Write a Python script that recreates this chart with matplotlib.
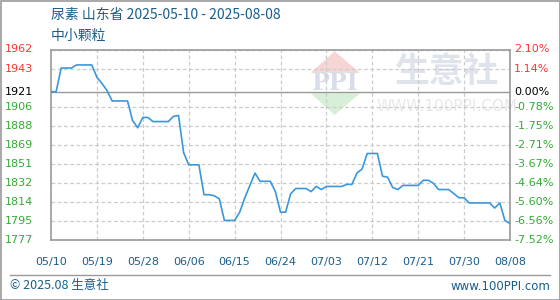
import numpy as np
import pandas as pd
import matplotlib
matplotlib.use('Agg')
import matplotlib.pyplot as plt
import matplotlib.transforms as mtransforms
from matplotlib.patches import Polygon

plt.rcParams['font.family'] = ['Noto Sans CJK SC', 'DejaVu Sans']

# daily price, 2025-05-10 .. 2025-08-08
dates = pd.date_range('2025-05-10', '2025-08-08', freq='D')
prices = [
    1921, 1921, 1944, 1944, 1944, 1947, 1947, 1947, 1947, 1935,
    1929, 1922, 1912, 1912, 1912, 1912, 1893, 1886, 1896, 1896,
    1892, 1892, 1892, 1892, 1897, 1898, 1862, 1850, 1850, 1850,
    1821, 1821, 1820, 1817, 1796, 1796, 1796, 1804, 1818, 1830,
    1842, 1834, 1834, 1834, 1824, 1804, 1804, 1822, 1827, 1827,
    1827, 1824, 1829, 1826, 1829, 1829, 1829, 1829, 1831, 1831,
    1842, 1846, 1861, 1861, 1861, 1839, 1838, 1828, 1826, 1830,
    1830, 1830, 1830, 1835, 1835, 1832, 1826, 1826, 1826, 1822,
    1818, 1818, 1813, 1813, 1813, 1813, 1813, 1808, 1813, 1796,
    1793,
]
base_price = 1921

y_min, y_max = 1777, 1962
left_labels = ['1777', '1795', '1814', '1832', '1851', '1869', '1888',
               '1906', '1921', '1943', '1962']
right_labels = ['-7.52%', '-6.56%', '-5.60%', '-4.64%', '-3.67%', '-2.71%',
                '-1.75%', '-0.78%', '0.00%', '1.14%', '2.10%']
x_tick_dates = pd.date_range('2025-05-10', '2025-08-08', freq='9D')
x_labels = [d.strftime('%m/%d') for d in x_tick_dates]

RED = '#ff3333'
GREEN = '#33aa33'
BLUE_TXT = '#1a5e8c'

fig = plt.figure(figsize=(5.6, 3.0), dpi=100)
ax = fig.add_axes([51 / 560, 1 - 240 / 300, 459 / 560, 190.5 / 300])

# gridline positions: evenly spaced, the one nearest the base is swapped for the base
grid_y = list(np.linspace(y_min, y_max, 11))
grid_y[8] = base_price

ax.set_xlim(dates[0], dates[-1])
ax.set_ylim(y_min, y_max)
for gy in grid_y:
    if gy == base_price:
        ax.axhline(gy, color='#999999', lw=1.0, zorder=2)
    else:
        ax.axhline(gy, color='#cccccc', lw=0.9, ls=(0, (3, 2)), zorder=1)
for xd in x_tick_dates[1:-1]:
    ax.axvline(xd, color='#cccccc', lw=0.9, ls=(0, (3, 2)), zorder=1)

# watermark
wm = ax.transAxes
ax.add_patch(Polygon([[0.566, 0.878], [0.618, 0.99], [0.673, 0.878]], closed=True,
                     transform=wm, fc='#f8d5d5', ec='none', zorder=0))
ax.add_patch(Polygon([[0.566, 0.77], [0.618, 0.656], [0.673, 0.77]], closed=True,
                     transform=wm, fc='#d6efd6', ec='none', zorder=0))
ax.text(0.619, 0.823, 'PPI', transform=wm, ha='center', va='center', fontsize=17,
        fontweight='bold', color='#d8dde8', family='DejaVu Serif', zorder=0)
ax.text(0.862, 0.882, '生意社', transform=wm, ha='center', va='center', fontsize=25,
        fontweight='bold', color='#dfe3ec', zorder=0)
ax.text(0.862, 0.70, 'WWW.100PPI.COM', transform=wm, ha='center', va='center',
        fontsize=11, color='#e8e8e8', family='DejaVu Sans', zorder=0)

ax.plot(dates, prices, color='#3a98d8', lw=1.2, zorder=3)

for sp in ax.spines.values():
    sp.set_color('#999999')
    sp.set_linewidth(1.2)

ax.set_yticks([])
ax.set_xticks(x_tick_dates)
ax.set_xticklabels(x_labels, fontsize=8, color=BLUE_TXT, family='DejaVu Sans')
ax.tick_params(axis='x', length=0, pad=12)

# left and right axis labels
tl = mtransforms.blended_transform_factory(fig.transFigure, ax.transData)
for gy, ll, rl in zip(grid_y, left_labels, right_labels):
    if gy > base_price + 0.5:
        c = RED
    elif abs(gy - base_price) < 0.5:
        c = 'black'
    else:
        c = GREEN
    fig.text(5 / 560, gy, ll, transform=tl, ha='left', va='center', fontsize=8,
             color=c, family='DejaVu Sans')
    fig.text(514 / 560, gy, rl, transform=tl, ha='left', va='center', fontsize=8,
             color=c, family='DejaVu Sans')

# titles
fig.text(51 / 560, 1 - 15 / 300, '尿素 山东省 2025-05-10 - 2025-08-08', ha='left',
         va='center', fontsize=10, color=BLUE_TXT)
fig.text(51 / 560, 1 - 36 / 300, '中小颗粒', ha='left', va='center', fontsize=10,
         color=BLUE_TXT)

# footer
fig.add_artist(plt.Line2D([10 / 560, 550 / 560], [1 - 275 / 300] * 2,
                          transform=fig.transFigure, color='#999999', lw=1))
fig.text(10 / 560, 1 - 286 / 300, '© 2025.08 生意社', ha='left', va='center',
         fontsize=9, color=BLUE_TXT)
fig.text(550 / 560, 1 - 286 / 300, 'www.100PPI.com', ha='right', va='center',
         fontsize=8.5, color=BLUE_TXT, family='DejaVu Sans')

# outer border
fig.add_artist(plt.Rectangle((0.5 / 560, 0.5 / 300), 559 / 560, 299 / 300,
                             transform=fig.transFigure, fill=False,
                             ec='#999999', lw=1.2))

fig.savefig('out.png', dpi=100)
